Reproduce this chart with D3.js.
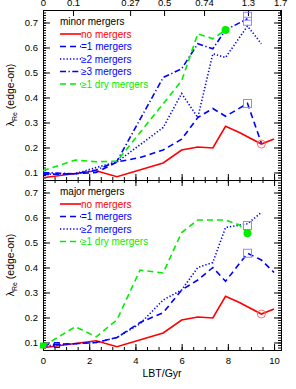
<!DOCTYPE html>
<html>
<head>
<meta charset="utf-8">
<script src="https://cdn.jsdelivr.net/npm/d3@7"></script>
<style>
  body { margin: 0; background: #fff; }
  svg text { font-family: "Liberation Sans", Arial, sans-serif; }
</style>
</head>
<body>
<svg id="chart" width="296" height="389"></svg>
<script>
// lookback-time bins (Gyr) shared by every curve
const lbt = [0, 0.6, 1.4, 2.3, 3.2, 4.2, 5.2, 6.0, 6.7, 7.35, 7.9, 8.5, 8.85, 9.45, 10.0];

const noMergers = [0.079, null, null, 0.107, 0.083, null, 0.138, 0.19, 0.202, 0.198, 0.285, 0.26, null, 0.214, 0.234];

// minor mergers
const minorEq1 = [0.092, null, 0.095, 0.1, 0.142, 0.16, 0.19, 0.233, 0.32, 0.356, 0.325, null, 0.376, 0.218, null];
const minorGe2 = [0.093, null, 0.095, 0.12, 0.142, null, 0.28, 0.416, 0.32, 0.575, 0.56, null, 0.686, 0.615, null];
const minorGe3 = [0.1, null, 0.095, 0.11, 0.145, null, 0.48, 0.515, 0.615, 0.595, 0.67, null, 0.715, null, null];
const minorDry = [0.107, null, 0.15, 0.143, 0.145, null, null, 0.467, 0.655, 0.635, 0.67, null, null, null, null];

// major mergers
const majorEq1 = [0.092, null, 0.095, 0.1, 0.12, 0.18, 0.219, 0.31, 0.35, 0.4, 0.345, null, 0.457, 0.43, 0.38];
const majorGe2 = [0.085, 0.09, 0.095, 0.1, 0.12, 0.175, 0.27, 0.31, 0.4, 0.42, 0.56, null, 0.575, 0.62, null];
const majorDry = [0.085, null, 0.163, 0.123, 0.19, 0.39, 0.378, 0.54, 0.59, 0.59, 0.59, 0.57, 0.537, null, null];

// top axis: redshift labels and their lookback time
const zLabels = ["0", "0.1", "0.27", "0.5", "0.74", "1.3", "1.7"];
const zLbt = [0, 1.3, 3.77, 5.24, 6.97, 8.87, 10.26];

const svg = d3.select("#chart");
const x = d3.scaleLinear().domain([0, 10.3]).range([43, 281]);

const red = "#ff0000", blue = "#0000ff", green = "#00ee00";
const styles = {
  none: { color: red, dash: null },
  eq1: { color: blue, dash: "6,4" },
  ge2: { color: blue, dash: "1.3,2" },
  ge3: { color: blue, dash: "6,2.5,1.3,2.5" },
  dry: { color: green, dash: "6,4" },
};

function drawPanel(top, bottom, title, series, legend, markers, showTopLabels, showBottomLabels) {
  const y = d3.scaleLinear().domain([0.07, 0.75]).range([bottom, top]);
  const g = svg.append("g");

  const majorY = d3.range(0.1, 0.71, 0.1);
  const minorY = d3.range(0.07, 0.751, 0.01);
  const majorX = d3.range(0, 10.1, 2);
  const minorX = d3.range(0, 10.3, 0.5);

  // left
  g.append("g").attr("transform", `translate(${x(0)},0)`)
    .call(d3.axisLeft(y).tickValues(minorY).tickSize(-3).tickFormat(""));
  g.append("g").attr("transform", `translate(${x(0)},0)`)
    .call(d3.axisLeft(y).tickValues(majorY).tickSize(-7).tickPadding(5).tickFormat(d3.format(".1f")));
  // right
  g.append("g").attr("transform", `translate(${x(10.3)},0)`)
    .call(d3.axisRight(y).tickValues(minorY).tickSize(-3).tickFormat(""));
  g.append("g").attr("transform", `translate(${x(10.3)},0)`)
    .call(d3.axisRight(y).tickValues(majorY).tickSize(-7).tickFormat(""));
  // bottom
  g.append("g").attr("transform", `translate(0,${bottom})`)
    .call(d3.axisBottom(x).tickValues(minorX).tickSize(-3).tickFormat(""));
  g.append("g").attr("class", "xlab").attr("transform", `translate(0,${bottom})`)
    .call(d3.axisBottom(x).tickValues(majorX).tickSize(-6).tickPadding(5)
      .tickFormat(showBottomLabels ? d3.format("d") : ""));
  // top
  if (showTopLabels) {
    g.append("g").attr("transform", `translate(0,${top})`)
      .call(d3.axisTop(x).tickValues(zLbt).tickSize(-6).tickPadding(4)
        .tickFormat((d, i) => zLabels[i]));
  } else {
    g.append("g").attr("transform", `translate(0,${top})`)
      .call(d3.axisTop(x).tickValues(minorX).tickSize(-3).tickFormat(""));
    g.append("g").attr("transform", `translate(0,${top})`)
      .call(d3.axisTop(x).tickValues(majorX).tickSize(-6).tickFormat(""));
  }

  g.selectAll(".domain").attr("stroke", "#000").attr("stroke-width", 1);
  g.selectAll(".tick line").attr("stroke", "#000");
  g.selectAll(".tick text").attr("fill", "#000").style("font-size", "9.5px");
  if (showBottomLabels) g.selectAll(".xlab .tick text").attr("dy", "0.9em");

  // curves
  const line = d3.line().x((d) => x(d[0])).y((d) => y(d[1]));
  series.forEach((s) => {
    const pts = lbt.map((t, i) => [t, s.values[i]]).filter((d) => d[1] != null);
    g.append("path")
      .attr("d", line(pts))
      .attr("fill", "none")
      .attr("stroke", styles[s.key].color)
      .attr("stroke-width", 1.6)
      .attr("stroke-dasharray", styles[s.key].dash);
  });

  // markers
  markers.forEach((m) => {
    if (m.type === "square") {
      g.append("rect")
        .attr("x", x(m.t) - 4).attr("y", y(m.v) - 4)
        .attr("width", 8).attr("height", 8)
        .attr("fill", "none").attr("stroke", "#8c8cff").attr("stroke-width", 1);
    } else if (m.type === "small") {
      g.append("rect")
        .attr("x", x(m.t) - 2.5).attr("y", y(m.v) - 2.5)
        .attr("width", 5).attr("height", 5)
        .attr("fill", m.fill).attr("stroke", m.stroke).attr("stroke-width", 1);
    } else if (m.type === "open") {
      g.append("circle").attr("cx", x(m.t)).attr("cy", y(m.v)).attr("r", 4)
        .attr("fill", "none").attr("stroke", "#ff7070").attr("stroke-width", 1);
    } else {
      g.append("circle").attr("cx", x(m.t)).attr("cy", y(m.v)).attr("r", 4)
        .attr("fill", green);
    }
  });

  // legend
  g.append("text").attr("x", 60).attr("y", top + 15)
    .style("font-size", "10px").attr("fill", "#000").text(title);
  legend.forEach((l, i) => {
    const ly = top + 24 + i * 12.5;
    g.append("line").attr("x1", 60).attr("x2", 81).attr("y1", ly).attr("y2", ly)
      .attr("stroke", styles[l.key].color).attr("stroke-width", 1.6)
      .attr("stroke-dasharray", styles[l.key].dash);
    g.append("text").attr("x", 81).attr("y", ly + 3.5)
      .style("font-size", "10px").attr("fill", styles[l.key].color).text(l.label);
  });

  // y title
  const ty = (top + bottom) / 2;
  const yt = g.append("text")
    .attr("transform", `translate(14,${ty}) rotate(-90)`)
    .attr("text-anchor", "middle").style("font-size", "10.5px").attr("fill", "#000");
  yt.append("tspan").text("λ");
  yt.append("tspan").attr("dy", 3).style("font-size", "7px").text("Re");
  yt.append("tspan").attr("dy", -3).text(" (edge-on)");
}

drawPanel(10, 180, "minor mergers",
  [
    { key: "none", values: noMergers },
    { key: "eq1", values: minorEq1 },
    { key: "ge2", values: minorGe2 },
    { key: "ge3", values: minorGe3 },
    { key: "dry", values: minorDry },
  ],
  [
    { key: "none", label: "no mergers" },
    { key: "eq1", label: "=1 mergers" },
    { key: "ge2", label: "≥2 mergers" },
    { key: "ge3", label: "≥3 mergers" },
    { key: "dry", label: "≥1 dry mergers" },
  ],
  [
    { type: "square", t: 8.85, v: 0.725 },
    { type: "square", t: 8.85, v: 0.705 },
    { type: "square", t: 8.85, v: 0.376 },
    { type: "open", t: 9.45, v: 0.214 },
    { type: "filled", t: 7.9, v: 0.67 },
  ],
  true, false);

drawPanel(180, 350, "major mergers",
  [
    { key: "none", values: noMergers },
    { key: "eq1", values: majorEq1 },
    { key: "ge2", values: majorGe2 },
    { key: "dry", values: majorDry },
  ],
  [
    { key: "none", label: "no mergers" },
    { key: "eq1", label: "=1 mergers" },
    { key: "ge2", label: "≥2 mergers" },
    { key: "dry", label: "≥1 dry mergers" },
  ],
  [
    { type: "square", t: 8.85, v: 0.457 },
    { type: "square", t: 8.85, v: 0.568 },
    { type: "open", t: 9.45, v: 0.214 },
    { type: "filled", t: 8.85, v: 0.537 },
    { type: "small", t: 0, v: 0.088, fill: green, stroke: green },
    { type: "small", t: 0.6, v: 0.09, fill: "none", stroke: blue },
  ],
  false, true);

svg.append("text").attr("x", 162).attr("y", 377).attr("text-anchor", "middle")
  .style("font-size", "10.5px").attr("fill", "#000").text("LBT/Gyr");
</script>
</body>
</html>
